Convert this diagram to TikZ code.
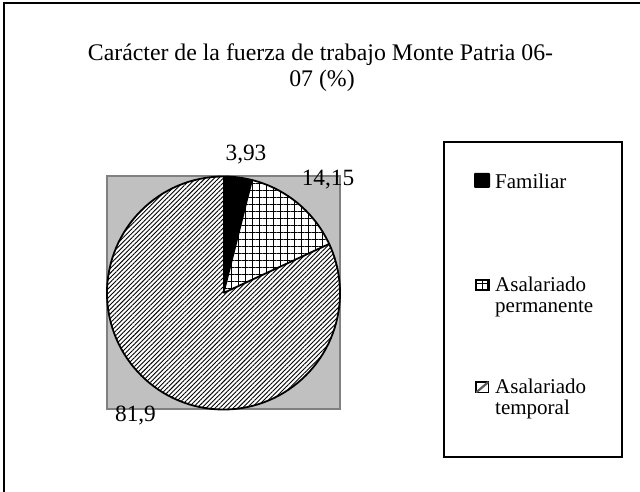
\documentclass[tikz,border=0pt]{standalone}
\usepackage{fontspec}
\setmainfont{Liberation Serif}
\usetikzlibrary{patterns.meta}
\begin{document}
\begin{tikzpicture}[x=1pt,y=1pt,
  titlefont/.style={font=\fontsize{23.8}{27}\selectfont},
  valfont/.style={font=\fontsize{23.3}{26}\selectfont, inner sep=0pt},
  legfont/.style={font=\fontsize{21}{20.5}\selectfont, inner sep=0pt, align=left},
  slice/.style={draw=black, line width=1.8pt, line join=round},
  legicon/.style={draw=black, line width=1.2pt}
]
\useasboundingbox (0,0) rectangle (640,492);
\begin{scope}
\clip (0,0) rectangle (640,492);
\fill[white] (0,0) rectangle (640,492);
\draw[line width=2pt] (4,-10) rectangle (660,488.5);
\end{scope}
% title
\node[titlefont, anchor=base] (t1) at (320.5,431) {Carácter de la fuerza de trabajo Monte Patria 06-};
\node[titlefont, anchor=base] (t2) at (322,405) {07 (\%)};
% plot area
\draw[fill={rgb,255:red,192;green,192;blue,192}, draw={rgb,255:red,128;green,128;blue,128}, line width=2pt] (107,82.5) rectangle (340,315.5);
\coordinate (c) at (223.5,199);
\def\R{116.5}
% temporal slice (81.9%)
\fill[white] (c) -- ++(24.906:\R) arc[start angle=24.906, end angle=-270, radius=\R] -- cycle;
\fill[pattern={Lines[angle=45, distance=3.2pt, line width=0.9pt]}] (c) -- ++(24.906:\R) arc[start angle=24.906, end angle=-270, radius=\R] -- cycle;
% permanente slice (14.15%)
\fill[white] (c) -- ++(75.852:\R) arc[start angle=75.852, end angle=24.906, radius=\R] -- cycle;
\fill[pattern={Hatch[angle=0, distance=7pt, line width=1pt]}] (c) -- ++(75.852:\R) arc[start angle=75.852, end angle=24.906, radius=\R] -- cycle;
% familiar slice (3.93%)
\fill[black] (c) -- ++(90:\R) arc[start angle=90, end angle=75.852, radius=\R] -- cycle;
% outlines
\draw[slice] (c) circle[radius=\R];
\draw[slice] (c) -- ++(90:\R);
\draw[slice] (c) -- ++(75.852:\R);
\draw[slice] (c) -- ++(24.906:\R);
% data labels
\node[valfont, anchor=base] (v1) at (246,331) {3,93};
\node[valfont, anchor=base] (v2) at (328,306) {14,15};
\node[valfont, anchor=base] (v3) at (135.5,70) {81,9};
% legend
\draw[line width=2pt] (444,35) rectangle (622,350);
\fill[black, rounded corners=1pt] (474,304) rectangle (490,319);
\node[legfont, anchor=base west] (l1) at (495,303) {Familiar};
% permanente icon
\fill[black] (475,200.5) rectangle (489.5,213);
\fill[white] (477.3,202.8) rectangle (481.6,207.6);
\fill[white] (483,202.8) rectangle (487.2,207.6);
\fill[white] (477.3,209) rectangle (481.6,210.8);
\fill[white] (483,209) rectangle (487.2,210.8);
\node[legfont, anchor=base west] (l2) at (495,179.5) {Asalariado\\permanente};
% temporal icon
\begin{scope}
\draw[black, fill=white, line width=1.8pt] (476,99.5) rectangle (488.5,110);
\clip (476,99.5) rectangle (488.5,110);
\draw[gray!70!black, line width=2.2pt] (476,99.5) -- (488.5,110);
\end{scope}
\node[legfont, anchor=base west] (l3) at (495,77.5) {Asalariado\\temporal};
\end{tikzpicture}
\end{document}
